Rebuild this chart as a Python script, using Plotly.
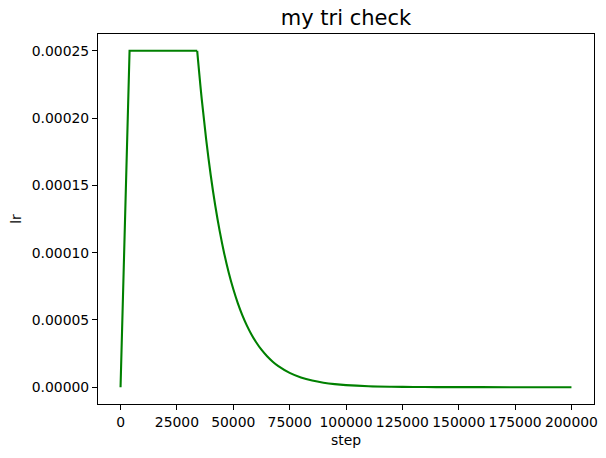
import plotly.graph_objects as go

# data
warm_steps = [0, 4000, 34000]
warm_lr = [0.0, 2.5e-4, 2.5e-4]
decay_steps = [34000, 36000, 38000, 40000, 42000, 44000, 46000, 48000, 50000,
               52000, 54000, 56000, 58000, 60000, 62500, 65000, 67500, 70000, 75000,
               80000, 85000, 90000, 95000, 100000, 110000, 120000, 130000, 140000,
               150000, 160000, 175000, 200000]
decay_lr = [2.5e-4, 2.1433e-4, 1.8374e-4, 1.5752e-4, 1.3504e-4, 1.1577e-4,
            9.925e-5, 8.509e-5, 7.294e-5, 6.253e-5, 5.361e-5, 4.596e-5, 3.940e-5,
            3.378e-5, 2.786e-5, 2.298e-5, 1.896e-5, 1.564e-5, 1.064e-5, 7.243e-6,
            4.929e-6, 3.354e-6, 2.283e-6, 1.553e-6, 7.19e-7, 3.33e-7, 1.54e-7, 7.1e-8,
            3.3e-8, 1.5e-8, 5e-9, 1e-9]
x_ticks = [0, 25000, 50000, 75000, 100000, 125000, 150000, 175000, 200000]
y_ticks = [0.0, 0.00005, 0.00010, 0.00015, 0.00020, 0.00025]

FONT = "DejaVu Sans"
GREEN = "#008000"

fig = go.Figure()
fig.add_trace(go.Scatter(x=warm_steps, y=warm_lr, mode="lines",
                         line=dict(color=GREEN, width=2.1), showlegend=False))
fig.add_trace(go.Scatter(x=decay_steps, y=decay_lr, mode="lines",
                         line=dict(color=GREEN, width=2.1, shape="spline", smoothing=1.0),
                         showlegend=False))

axis_common = dict(showgrid=False, zeroline=False, showline=True, linecolor="black",
                   linewidth=1.1, mirror=True, ticks="outside", ticklen=5,
                   tickwidth=1.1, tickcolor="black", automargin=False,
                   tickfont=dict(family=FONT, size=13.9, color="black"))

fig.update_layout(
    width=606, height=458,
    margin=dict(l=98, r=12, t=34, b=54),
    paper_bgcolor="white", plot_bgcolor="white",
    font=dict(family=FONT, color="black"),
    title=dict(text="my tri check", x=0.5, xref="paper", y=1 - 18 / 458,
               yanchor="middle", xanchor="center", automargin=False,
               font=dict(family=FONT, size=21, color="black")),
    xaxis=dict(range=[-10000, 210000], tickvals=x_ticks,
               ticktext=[str(v) for v in x_ticks],
               title=dict(text="step", font=dict(family=FONT, size=13.9), standoff=6),
               **axis_common),
    yaxis=dict(range=[-0.0000125, 0.0002625], tickvals=y_ticks,
               ticktext=[f"{v:.5f}" for v in y_ticks],
               title=dict(text="lr", font=dict(family=FONT, size=13.9), standoff=6),
               **axis_common),
)

fig.write_html("out.html", config={"displayModeBar": False},
               post_script="document.body.style.margin='0';")
